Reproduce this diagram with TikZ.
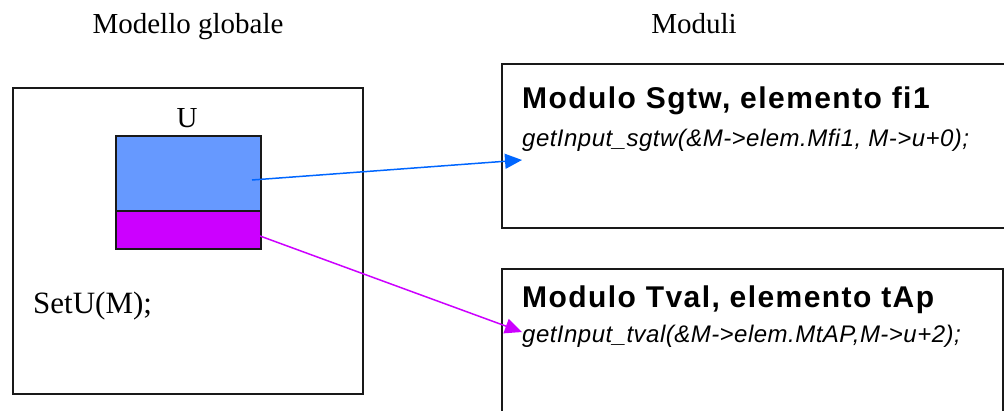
\documentclass[tikz,border=0pt]{standalone}
\usepackage{fontspec}
\setmainfont{Liberation Serif}
\newfontfamily\titlefont{Liberation Sans}[LetterSpace=4.8]
\newfontfamily\codefont{Liberation Sans}[LetterSpace=2]
\usetikzlibrary{positioning}
\usetikzlibrary{arrows.meta}

\definecolor{cellblue}{RGB}{102,153,255}
\definecolor{cellmag}{RGB}{204,0,255}
\definecolor{linkblue}{RGB}{0,102,255}

\begin{document}
\begin{tikzpicture}[x=1pt, y=-1pt, font=\fontsize{29}{34}\selectfont,
    box/.style={draw=black!90, line width=2pt, inner sep=0pt, anchor=north west},
    cell/.style={box, minimum width=145pt},
    link/.style={line width=1.5pt, -{Triangle[length=17pt,width=15pt]}},
    title/.style={anchor=base west, inner sep=0pt, font=\titlefont\bfseries\fontsize{30}{34}\selectfont},
    code/.style={anchor=base west, inner sep=0pt, font=\codefont\itshape\fontsize{24}{28}\selectfont}]

   \useasboundingbox (0,0) rectangle (1004,410);

   % headings
   \node[anchor=base, inner sep=0pt] (hglob) at (188,33) {Modello globale};
   \node[anchor=base, inner sep=0pt] (hmod) at (694,33) {Moduli};

   % global model with the U vector
   \node[box, minimum width=350pt, minimum height=306pt] (glob) at (12,87) {};
   \node[cell, fill=cellblue, minimum height=75pt] (ublue) at (115,135) {};
   \node[cell, fill=cellmag, minimum height=38pt] (umag) at (115,210) {};
   \node[anchor=base, inner sep=0pt] (ulab) at (187,127) {U};
   \node[anchor=base west, inner sep=0pt, font=\fontsize{31}{36}\selectfont] (setu) at (33,313) {SetU(M);};

   % modules
   \node[box, minimum width=540pt, minimum height=164pt] (sgtw) at (501,63) {};
   \node[title] (sgtwt) at (522,108) {Modulo Sgtw, elemento fi1};
   \node[code] (sgtwc) at (522,146) {getInput\_sgtw(\&M->elem.Mfi1, M->u+0);};

   \node[box, minimum width=501pt, minimum height=180pt] (tval) at (501,268) {};
   \node[title] (tvalt) at (522,307) {Modulo Tval, elemento tAp};
   \node[code] (tvalc) at (522,342) {getInput\_tval(\&M->elem.MtAP,M->u+2);};

   % links
   \coordinate (bfrom) at (252,180);
   \coordinate (bto) at (522,160);
   \coordinate (mfrom) at (260,236);
   \coordinate (mto) at (522,332);
   \draw[link, linkblue] (bfrom) -- (bto);
   \draw[link, cellmag] (mfrom) -- (mto);

\end{tikzpicture}
\end{document}
